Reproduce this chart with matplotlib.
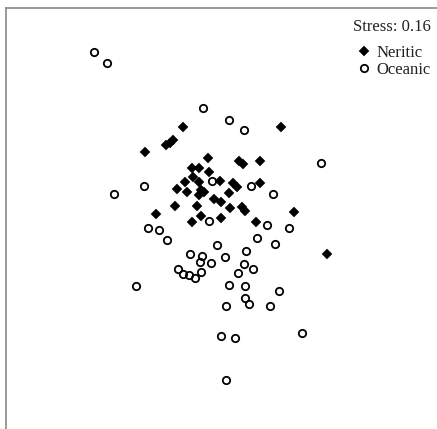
import matplotlib
matplotlib.use("Agg")
import matplotlib.pyplot as plt

plt.rcParams["font.family"] = ["Liberation Serif", "DejaVu Serif"]

# NMDS ordination scores per sample
neritic_x = [-0.33, 0.65, -0.50, -0.46, -0.43, -0.71, -0.08, 0.23, 0.27, 0.44,
             -0.24, -0.17, -0.07, -0.23, -0.17, -0.31, 0.04, 0.17, 0.21, 0.44,
             -0.39, -0.29, -0.15, -0.12, -0.17, 0.13, -0.02, 0.05, -0.41, -0.19,
             0.14, 0.26, 0.29, -0.60, 0.78, -0.24, -0.15, 0.05, 0.40, 1.11]
neritic_y = [0.89, 0.89, 0.71, 0.73, 0.76, 0.64, 0.58, 0.55, 0.52, 0.55,
             0.48, 0.48, 0.44, 0.39, 0.34, 0.34, 0.35, 0.33, 0.29, 0.33,
             0.27, 0.24, 0.26, 0.24, 0.21, 0.23, 0.17, 0.14, 0.10, 0.10,
             0.08, 0.09, 0.05, 0.02, 0.04, -0.06, 0.00, -0.02, -0.06, -0.38]

oceanic_x = [-1.22, -1.09, -0.13, 0.13, 0.28, 1.05, -0.72, -1.02, -0.04, 0.35,
             0.57, -0.07, 0.51, 0.73, -0.68, -0.57, -0.49, 0.41, 0.59, 0.01,
             0.30, -0.26, -0.14, 0.09, -0.16, -0.05, 0.28, -0.38, -0.33, -0.27,
             -0.21, -0.15, 0.22, 0.37, -0.80, 0.13, 0.29, 0.63, 0.29, 0.33,
             0.10, 0.54, 0.05, 0.19, 0.86, 0.10]
oceanic_y = [1.64, 1.53, 1.08, 0.96, 0.86, 0.53, 0.30, 0.22, 0.35, 0.30,
             0.22, -0.05, -0.09, -0.12, -0.12, -0.14, -0.24, -0.22, -0.28, -0.29,
             -0.35, -0.38, -0.40, -0.41, -0.46, -0.47, -0.48, -0.53, -0.58, -0.59,
             -0.62, -0.56, -0.57, -0.53, -0.70, -0.69, -0.70, -0.75, -0.82, -0.88,
             -0.90, -0.90, -1.20, -1.22, -1.17, -1.64]

stress = 0.16

fig = plt.figure(figsize=(4.37, 4.29), dpi=100)
ax = fig.add_axes([6 / 437, 0.0, 0.99, 1 - 8 / 429])

ax.plot(neritic_x, neritic_y, "D", ms=4.8, mfc="black", mec="black",
        mew=0.3, label="Neritic", zorder=3)
ax.plot(oceanic_x, oceanic_y, "o", ms=5.3, mfc="none", mec="black",
        mew=1.3, label="Oceanic", zorder=2)

ax.set_xlim(-2.10, 2.226)
ax.set_ylim(-2.13, 2.08)
ax.set_xticks([])
ax.set_yticks([])
for side in ["right", "bottom"]:
    ax.spines[side].set_visible(False)
for side in ["left", "top"]:
    ax.spines[side].set_color("#808080")
    ax.spines[side].set_linewidth(1.1)

fig.text(431 / 437, 1 - 27 / 429, "Stress: {:.2f}".format(stress),
         ha="right", va="center", fontsize=12, color="#222222")

ax.legend(loc="upper right", bbox_to_anchor=(431 / 437, 1 - 45 / 429),
          bbox_transform=fig.transFigure, frameon=False, fontsize=12,
          handlelength=0.7, handletextpad=0.4, labelspacing=0.08,
          borderpad=0.0, borderaxespad=0.0, labelcolor="#222222")

fig.savefig("out.png", dpi=100)
